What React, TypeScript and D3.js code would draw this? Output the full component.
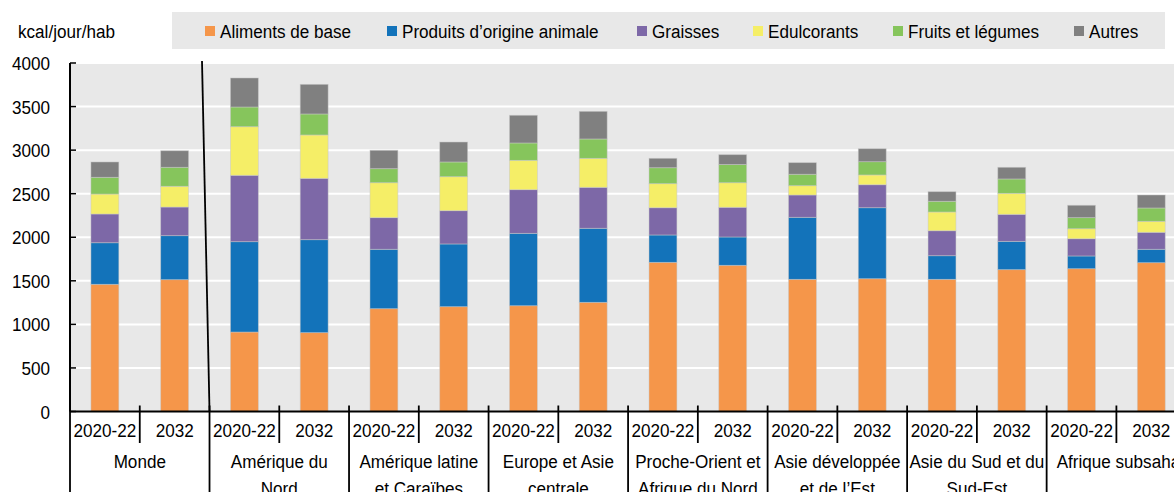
import React from "react";
import * as d3 from "d3";

const groups: string[][] = [
  ["Monde"],
  ["Amérique du", "Nord"],
  ["Amérique latine", "et Caraïbes"],
  ["Europe et Asie", "centrale"],
  ["Proche-Orient et", "Afrique du Nord"],
  ["Asie développée", "et de l’Est"],
  ["Asie du Sud et du", "Sud-Est"],
  ["Afrique subsaharienne"],
];
const periods = ["2020-22", "2032"];
const seriesNames = [
  "Aliments de base",
  "Produits d’origine animale",
  "Graisses",
  "Edulcorants",
  "Fruits et légumes",
  "Autres",
];
const seriesColors = ["#F5964A", "#1373BA", "#7D68A7", "#F5EE67", "#86C55C", "#808080"];

const aliments = [1460, 1513, 912, 905, 1180, 1203, 1214, 1253, 1712, 1678, 1517, 1524, 1517, 1628, 1639, 1708];
const animal = [477, 505, 1037, 1067, 682, 720, 831, 850, 314, 325, 712, 815, 271, 325, 146, 154];
const graisses = [330, 329, 762, 704, 363, 382, 501, 470, 313, 341, 256, 264, 287, 310, 198, 195];
const edulcorants = [229, 238, 558, 498, 401, 390, 337, 333, 276, 282, 107, 112, 215, 241, 115, 126];
const fruits = [192, 218, 226, 241, 161, 169, 199, 222, 183, 209, 131, 152, 123, 165, 127, 153];
const autres = [176, 190, 333, 340, 211, 229, 318, 317, 108, 113, 133, 149, 110, 134, 142, 149];
const yTicks = [0, 500, 1000, 1500, 2000, 2500, 3000, 3500, 4000];

const W = 1174;
const H = 492;
const FONT = "'Liberation Sans', Arial, sans-serif";
const SX = 0.9;
const FS = 19;

function T(props: { x: number; y: number; anchor?: string; children: React.ReactNode }) {
  return (
    <text
      transform={`translate(${props.x},${props.y}) scale(${SX},1)`}
      textAnchor={props.anchor || "start"}
      fontFamily={FONT}
      fontSize={FS}
      fill="#000"
    >
      {props.children}
    </text>
  );
}

export default function App() {
  const seriesData = [aliments, animal, graisses, edulcorants, fruits, autres];
  const slots = groups.flatMap((g, gi) => periods.map((p, pi) => `${gi}-${pi}`));
  const rows = slots.map((s, i) => {
    const r: any = { slot: s };
    seriesNames.forEach((n, k) => (r[n] = seriesData[k][i]));
    return r;
  });
  const stacked = d3.stack<any>().keys(seriesNames)(rows);

  const x0 = 70;
  const step = 69.76;
  const x = d3
    .scaleBand<string>()
    .domain(slots)
    .range([x0, x0 + step * slots.length])
    .paddingInner(0.6)
    .paddingOuter(0.3);
  const y = d3.scaleLinear().domain([0, 4000]).range([411.5, 63]);
  const yBase = y(0);

  const legendX = [205, 387, 637, 753, 893, 1074];

  return (
    <svg width={W} height={H} style={{ position: "absolute", left: 0, top: 0, background: "#fff" }}>
      {/* legend */}
      <rect x={172} y={12} width={993} height={37} fill="#E8E8E8" />
      {seriesNames.map((n, k) => (
        <g key={n}>
          <rect x={legendX[k]} y={26} width={10} height={10} fill={seriesColors[k]} />
          <T x={legendX[k] + 15} y={37.5}>{n}</T>
        </g>
      ))}
      <T x={18} y={37.5}>kcal/jour/hab</T>

      {/* plot bg */}
      <rect x={x0} y={y(4000)} width={W - x0} height={yBase - y(4000)} fill="#E8E8E8" />
      {yTicks.slice(1).map((t) => (
        <line key={t} x1={x0} x2={W} y1={y(t)} y2={y(t)} stroke="#fff" strokeWidth={2} />
      ))}

      {/* bars */}
      {stacked.map((s, k) => (
        <g key={s.key} fill={seriesColors[k]}>
          {s.map((d, i) => (
            <rect
              key={i}
              x={x(slots[i])!}
              width={x.bandwidth()}
              y={y(d[1])}
              height={y(d[0]) - y(d[1])}
              stroke="#c8c8c8"
              strokeOpacity={0.6}
              strokeWidth={0.8}
            />
          ))}
        </g>
      ))}

      {/* y axis */}
      <line x1={x0} x2={x0} y1={y(4000)} y2={yBase} stroke="#000" strokeWidth={2} />
      {yTicks.map((t) => (
        <g key={t}>
          <line x1={x0} x2={x0 + 6} y1={y(t)} y2={y(t)} stroke="#000" strokeWidth={1.5} />
          <T x={50} y={y(t) + 7} anchor="end">{t}</T>
        </g>
      ))}

      {/* x axis */}
      <line x1={x0} x2={W} y1={yBase} y2={yBase} stroke="#000" strokeWidth={2} />
      {/* Monde separator */}
      <line x1={202} y1={61} x2={x0 + 2 * step} y2={yBase} stroke="#000" strokeWidth={1.8} />
      {slots.map((s, i) => {
        const xl = x0 + i * step;
        const isGroup = i % 2 === 0;
        return (
          <line
            key={"t" + s}
            x1={xl}
            x2={xl}
            y1={yBase - 6}
            y2={isGroup ? H : 443}
            stroke="#000"
            strokeWidth={1.8}
          />
        );
      })}
      {slots.map((s, i) => (
        <T key={"l" + s} x={x(s)! + x.bandwidth() / 2} y={437} anchor="middle">
          {periods[i % 2]}
        </T>
      ))}
      {groups.map((g, gi) => {
        const cx = x0 + (gi * 2 + 1) * step;
        const last = gi === groups.length - 1;
        return g.map((line, li) => (
          <T
            key={gi + "-" + li}
            x={last ? x0 + gi * 2 * step + 10 : cx}
            y={468 + li * 27}
            anchor={last ? "start" : "middle"}
          >
            {line}
          </T>
        ));
      })}
    </svg>
  );
}
